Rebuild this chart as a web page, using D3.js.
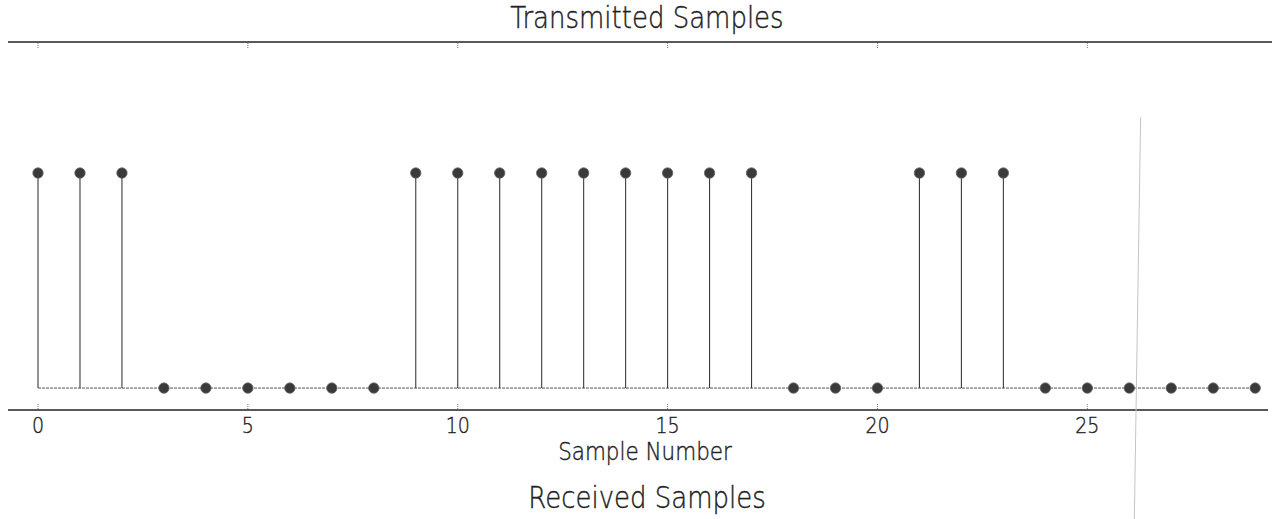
<!DOCTYPE html>
<html>
<head>
<meta charset="utf-8">
<script src="https://cdn.jsdelivr.net/npm/d3@7"></script>
<style>
  body { margin: 0; background: #fff; }
  text { font-family: "DejaVu Sans", sans-serif; fill: #222; stroke: #222; stroke-width: 0.35px; font-weight: 300; }
</style>
</head>
<body>
<svg width="1280" height="519"></svg>
<script>
// transmitted bits, one per sample
const samples = d3.range(0, 30);
const values = [1, 1, 1, 0, 0, 0, 0, 0, 0, 1, 1, 1, 1, 1, 1, 1, 1, 1, 0, 0, 0, 1, 1, 1, 0, 0, 0, 0, 0, 0];
const xTicks = [0, 5, 10, 15, 20, 25];
const titleTop = "Transmitted Samples";
const titleBottom = "Received Samples";
const xLabel = "Sample Number";

var svg = d3.select("svg"),
  margin = { top: 42, right: 8, bottom: 109, left: 8 },
  width = +svg.attr("width") - margin.left - margin.right,
  height = +svg.attr("height") - margin.top - margin.bottom;

var g = svg.append("g")
  .attr("transform", "translate(" + margin.left + "," + margin.top + ")");

var xScale = d3.scaleLinear().domain([-0.715, 29.4]).range([0, width]);
var yScale = d3.scaleLinear().domain([-0.102, 1.609]).range([height, 0]);

// printed text looks a bit stretched vertically
function stretched(sel, x, y, k) {
  return sel.attr("transform", `translate(${x},${y}) scale(1,${k})`);
}

// frame lines (top + bottom spines)
g.append("line")
  .attr("x1", 0).attr("x2", width)
  .attr("y1", 0).attr("y2", 0)
  .attr("stroke", "#222").attr("stroke-width", 1.5);
g.append("line")
  .attr("x1", 0).attr("x2", width - 4)
  .attr("y1", height).attr("y2", height)
  .attr("stroke", "#222").attr("stroke-width", 1.5);

// inward ticks, dotted like the print
g.selectAll(".tickTop")
  .data(xTicks)
  .enter().append("line")
  .attr("class", "tickTop")
  .attr("x1", d => xScale(d)).attr("x2", d => xScale(d))
  .attr("y1", 1).attr("y2", 6)
  .attr("stroke", "#777").attr("stroke-dasharray", "1,1");
g.selectAll(".tickBot")
  .data(xTicks)
  .enter().append("line")
  .attr("class", "tickBot")
  .attr("x1", d => xScale(d)).attr("x2", d => xScale(d))
  .attr("y1", height - 1).attr("y2", height - 6)
  .attr("stroke", "#777").attr("stroke-dasharray", "1,1");

g.selectAll(".tickLabel")
  .data(xTicks)
  .enter().append("text")
  .attr("class", "tickLabel")
  .each(function(d) { stretched(d3.select(this), xScale(d), height + 23, 1.15); })
  .attr("text-anchor", "middle")
  .style("font-size", "19px")
  .text(d => d);

// baseline
g.append("line")
  .attr("x1", xScale(0)).attr("x2", xScale(29))
  .attr("y1", yScale(0)).attr("y2", yScale(0))
  .attr("stroke", "#555").attr("stroke-width", 1)
  .attr("stroke-dasharray", "3,1");

// stems
g.selectAll(".stem")
  .data(samples.filter(i => values[i] !== 0))
  .enter().append("line")
  .attr("class", "stem")
  .attr("x1", d => xScale(d)).attr("x2", d => xScale(d))
  .attr("y1", yScale(0)).attr("y2", d => yScale(values[d]))
  .attr("stroke", "#3a3a3a").attr("stroke-width", 1.1);

// markers
g.selectAll(".dot")
  .data(samples)
  .enter().append("circle")
  .attr("class", "dot")
  .attr("cx", d => xScale(d))
  .attr("cy", d => yScale(values[d]))
  .attr("r", 5.2)
  .attr("fill", "#3a3a3a")
  .attr("stroke", "#666").attr("stroke-width", 0.8);

// faint scan line on the right
g.append("line")
  .attr("x1", xScale(26.27)).attr("x2", xScale(26.12))
  .attr("y1", yScale(1.26)).attr("y2", height + margin.bottom)
  .attr("stroke", "#c4c4c4").attr("stroke-width", 1);

// texts
stretched(svg.append("text"), 647, 28, 1.15)
  .attr("text-anchor", "middle")
  .style("font-size", "26px")
  .text(titleTop);
stretched(svg.append("text"), 645, margin.top + height + 50, 1.15)
  .attr("text-anchor", "middle")
  .style("font-size", "21.5px")
  .text(xLabel);
stretched(svg.append("text"), 647, 508, 1.15)
  .attr("text-anchor", "middle")
  .style("font-size", "26px")
  .text(titleBottom);
</script>
</body>
</html>
